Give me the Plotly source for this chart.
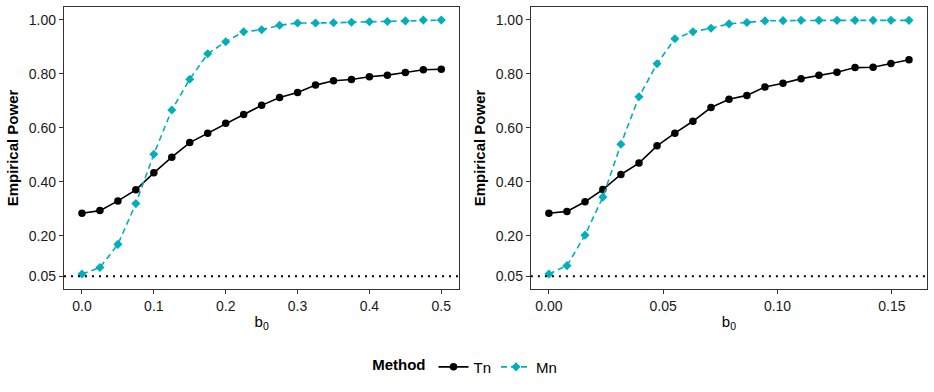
#empirical power curves of Tn vs Mn, two panels side by side
import plotly.graph_objects as go

#left panel: b0 grid and power values
b0_left = [0.0, 0.025, 0.05, 0.075, 0.1, 0.125, 0.15, 0.175, 0.2, 0.225, 0.25,
           0.275, 0.3, 0.325, 0.35, 0.375, 0.4, 0.425, 0.45, 0.475, 0.5]
tn_left = [0.283, 0.293, 0.329, 0.370, 0.433, 0.491, 0.545, 0.580, 0.617, 0.649, 0.683,
           0.712, 0.731, 0.758, 0.774, 0.779, 0.789, 0.795, 0.805, 0.815, 0.817]
mn_left = [0.058, 0.082, 0.168, 0.319, 0.502, 0.666, 0.780, 0.874, 0.919, 0.956, 0.963,
           0.980, 0.988, 0.988, 0.989, 0.991, 0.993, 0.994, 0.996, 0.999, 0.999]

#right panel
b0_right = [0.0, 0.0079, 0.0158, 0.0236, 0.0315, 0.0394, 0.0473, 0.0551, 0.063, 0.0709, 0.0788,
            0.0866, 0.0945, 0.1024, 0.1103, 0.1181, 0.126, 0.1339, 0.1418, 0.1496, 0.1575]
tn_right = [0.283, 0.290, 0.326, 0.371, 0.427, 0.469, 0.533, 0.580, 0.624, 0.675, 0.706,
            0.720, 0.751, 0.765, 0.782, 0.795, 0.806, 0.823, 0.824, 0.838, 0.852]
mn_right = [0.058, 0.089, 0.202, 0.343, 0.539, 0.715, 0.837, 0.930, 0.956, 0.969, 0.985,
            0.990, 0.996, 0.997, 0.998, 0.998, 0.998, 0.998, 0.998, 0.998, 0.998]

y_ticks = [0.05, 0.2, 0.4, 0.6, 0.8, 1.0]
y_ticklabels = ['0.05', '0.20', '0.40', '0.60', '0.80', '1.00']
alpha_level = 0.05

TEAL = '#00AFBB'
FONT = 'Liberation Sans, Arial, sans-serif'

fig = go.Figure()

panels = [(b0_left, tn_left, mn_left, 'x', 'y'), (b0_right, tn_right, mn_right, 'x2', 'y2')]
for i, (xs, tn, mn, xa, ya) in enumerate(panels):
    fig.add_trace(go.Scatter(x=xs, y=tn, mode='lines+markers', name='Tn', xaxis=xa, yaxis=ya,
                             line=dict(color='black', width=1.6),
                             marker=dict(symbol='circle', size=7.5, color='black'),
                             showlegend=(i == 0), legendgroup='Tn'))
    fig.add_trace(go.Scatter(x=xs, y=mn, mode='lines+markers', name='Mn', xaxis=xa, yaxis=ya,
                             line=dict(color=TEAL, width=1.6, dash='6px,4px'),
                             marker=dict(symbol='diamond', size=7, color=TEAL),
                             showlegend=(i == 0), legendgroup='Mn'))
    #dotted reference line at nominal level
    fig.add_shape(type='line', xref=xa + ' domain', yref=ya, x0=0, x1=1,
                  y0=alpha_level, y1=alpha_level,
                  line=dict(color='black', width=2, dash='2px,5px'))

axis_common = dict(showline=True, mirror=True, linecolor='#333333', linewidth=1.3,
                   ticks='outside', ticklen=4, tickcolor='#333333', showgrid=False,
                   zeroline=False, automargin=False,
                   tickfont=dict(size=14, color='#1a1a1a', family=FONT))

fig.update_layout(
    width=934, height=392,
    margin=dict(l=64, r=7, t=7, b=103),
    plot_bgcolor='white', paper_bgcolor='white',
    font=dict(family=FONT, color='black'),
    xaxis=dict(domain=[0, 0.458], range=[-0.025, 0.525], tickvals=[0, 0.1, 0.2, 0.3, 0.4, 0.5],
               ticktext=['0.0', '0.1', '0.2', '0.3', '0.4', '0.5'],
               title=dict(text='b<sub>0</sub>', font=dict(size=15), standoff=3), **axis_common),
    yaxis=dict(domain=[0, 1], range=[0.0025, 1.0475], tickvals=y_ticks, ticktext=y_ticklabels,
               title=dict(text='<b>Empirical Power</b>', font=dict(size=15), standoff=6),
               **axis_common),
    xaxis2=dict(domain=[0.541, 1], range=[-0.007875, 0.165375], anchor='y2',
                tickvals=[0, 0.05, 0.1, 0.15], ticktext=['0.00', '0.05', '0.10', '0.15'],
                title=dict(text='b<sub>0</sub>', font=dict(size=15), standoff=3), **axis_common),
    yaxis2=dict(domain=[0, 1], range=[0.0025, 1.0475], anchor='x2',
                tickvals=y_ticks, ticktext=y_ticklabels,
                title=dict(text='<b>Empirical Power</b>', font=dict(size=15), standoff=6),
                **axis_common),
    legend=dict(orientation='h', x=0.466, xanchor='center', y=-0.277, yanchor='middle',
                title=dict(text='<b>Method</b>', font=dict(size=15), side='left'),
                font=dict(size=15), itemwidth=30),
)

#drop the browser's default body margin so the figure sits at the window corner
fig.write_html("out.html", config={'displayModeBar': False},
               post_script="document.body.style.margin='0';")
